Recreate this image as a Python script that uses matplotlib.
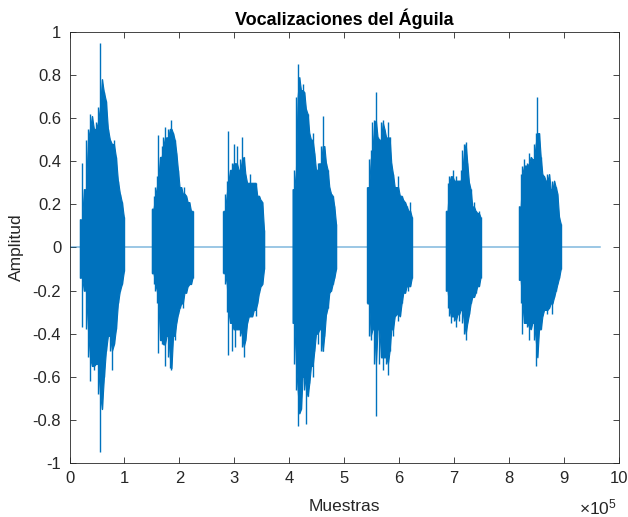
import numpy as np
import matplotlib
matplotlib.use("Agg")
import matplotlib.pyplot as plt
from matplotlib.ticker import FuncFormatter

plt.rcParams['font.family'] = ['Liberation Sans', 'DejaVu Sans']
plt.rcParams['axes.unicode_minus'] = False
plt.rcParams['mathtext.fontset'] = 'custom'
plt.rcParams['mathtext.rm'] = 'Liberation Sans'

# burst extents in samples (start, end) and envelope
burst_start = [0.19e5, 1.50e5, 2.80e5, 4.06e5, 5.42e5, 6.85e5, 8.18e5]
burst_end = [0.99e5, 2.24e5, 3.54e5, 4.85e5, 6.23e5, 7.48e5, 8.94e5]

upper = [
    [0.13, 0.39, 0.27, 0.50, 0.55, 0.62, 0.61, 0.55, 0.58, 0.65, 0.95, 0.78,
     0.72, 0.68, 0.55, 0.50, 0.48, 0.50, 0.42, 0.31, 0.25, 0.21, 0.14],
    [0.18, 0.24, 0.28, 0.33, 0.52, 0.42, 0.47, 0.51, 0.56, 0.51, 0.55, 0.55,
     0.59, 0.53, 0.50, 0.44, 0.36, 0.28, 0.28, 0.25, 0.28, 0.24, 0.21, 0.21,
     0.17, 0.17],
    [0.17, 0.25, 0.31, 0.54, 0.36, 0.39, 0.48, 0.39, 0.47, 0.36, 0.41, 0.51,
     0.42, 0.34, 0.30, 0.30, 0.34, 0.30, 0.30, 0.30, 0.24, 0.24, 0.22, 0.21,
     0.08],
    [0.27, 0.36, 0.70, 0.85, 0.79, 0.73, 0.76, 0.72, 0.64, 0.62, 0.53, 0.50,
     0.53, 0.44, 0.36, 0.39, 0.39, 0.47, 0.61, 0.47, 0.39, 0.36, 0.28, 0.25,
     0.24, 0.19, 0.11],
    [0.28, 0.41, 0.45, 0.58, 0.59, 0.72, 0.51, 0.50, 0.58, 0.59, 0.55, 0.51,
     0.58, 0.51, 0.39, 0.34, 0.28, 0.28, 0.33, 0.24, 0.24, 0.22, 0.21, 0.19,
     0.17, 0.21, 0.14],
    [0.17, 0.30, 0.33, 0.33, 0.36, 0.31, 0.33, 0.31, 0.31, 0.36, 0.45, 0.48,
     0.49, 0.39, 0.30, 0.27, 0.19, 0.21, 0.17, 0.16, 0.17, 0.14],
    [0.19, 0.34, 0.38, 0.41, 0.38, 0.39, 0.44, 0.42, 0.41, 0.48, 0.53, 0.70,
     0.53, 0.42, 0.34, 0.33, 0.31, 0.34, 0.34, 0.27, 0.31, 0.31, 0.28, 0.25,
     0.14, 0.11],
]
lower = [
    [-0.14, -0.37, -0.20, -0.38, -0.51, -0.62, -0.55, -0.57, -0.54, -0.68,
     -0.95, -0.75, -0.60, -0.48, -0.41, -0.48, -0.57, -0.45, -0.38, -0.26,
     -0.20, -0.17, -0.11],
    [-0.12, -0.17, -0.20, -0.26, -0.49, -0.43, -0.45, -0.45, -0.55, -0.41,
     -0.51, -0.56, -0.57, -0.41, -0.43, -0.35, -0.31, -0.28, -0.26, -0.28,
     -0.21, -0.21, -0.18, -0.17, -0.17, -0.14],
    [-0.12, -0.17, -0.30, -0.50, -0.35, -0.48, -0.38, -0.46, -0.38, -0.38,
     -0.41, -0.46, -0.51, -0.43, -0.35, -0.32, -0.32, -0.32, -0.29, -0.32,
     -0.26, -0.21, -0.18, -0.17, -0.10],
    [-0.35, -0.54, -0.66, -0.83, -0.77, -0.75, -0.60, -0.66, -0.82, -0.69,
     -0.63, -0.55, -0.60, -0.48, -0.40, -0.45, -0.38, -0.48, -0.48, -0.41,
     -0.31, -0.28, -0.21, -0.20, -0.17, -0.14, -0.10],
    [-0.26, -0.41, -0.43, -0.38, -0.54, -0.78, -0.38, -0.54, -0.51, -0.57,
     -0.51, -0.54, -0.59, -0.48, -0.38, -0.41, -0.32, -0.31, -0.34, -0.32,
     -0.26, -0.21, -0.21, -0.18, -0.20, -0.18, -0.14],
    [-0.20, -0.28, -0.32, -0.35, -0.32, -0.34, -0.37, -0.31, -0.34, -0.29,
     -0.35, -0.40, -0.43, -0.35, -0.31, -0.26, -0.23, -0.23, -0.21, -0.18,
     -0.18, -0.14],
    [-0.15, -0.26, -0.40, -0.35, -0.35, -0.37, -0.43, -0.38, -0.35, -0.43,
     -0.55, -0.51, -0.38, -0.38, -0.32, -0.29, -0.29, -0.31, -0.28, -0.26,
     -0.31, -0.23, -0.20, -0.17, -0.14, -0.10],
]

# silent baseline from first to last sample
silence_x = [0, 9.65e5]
silence_y = [0, 0]

blue = '#0072BD'
dark = '#262626'

fig = plt.figure(figsize=(6.28, 5.17), dpi=100)
ax = fig.add_axes([0.1107, 0.1044, 0.875, 0.834])

ax.plot(silence_x, silence_y, color=blue, lw=1.1, alpha=0.5)

for s, e, up, lo in zip(burst_start, burst_end, upper, lower):
    xs = np.linspace(s, e, len(up))
    # solid core between neighbouring minima, spikes drawn as vertical strokes
    core_up = np.minimum(up, np.roll(up, 1))
    core_lo = np.maximum(lo, np.roll(lo, 1))
    core_up[0], core_lo[0] = up[0], lo[0]
    ax.fill_between(xs, core_lo, core_up, color=blue, lw=0.8)
    ax.vlines(xs, lo, up, color=blue, lw=1.0)

ax.set_xlim(0, 10e5)
ax.set_ylim(-1, 1)
ax.set_xticks(np.arange(0, 11) * 1e5)
ax.xaxis.set_major_formatter(FuncFormatter(lambda v, p: '{:g}'.format(v / 1e5)))
ax.set_yticks(np.round(np.arange(-1, 1.01, 0.2), 1))
ax.yaxis.set_major_formatter(FuncFormatter(lambda v, p: '{:g}'.format(round(v, 1) + 0.0)))

ax.tick_params(direction='in', length=4, width=0.6, colors=dark,
               labelsize=12, top=True, right=True, pad=6)
for sp in ax.spines.values():
    sp.set_color(dark)
    sp.set_linewidth(0.6)

ax.set_title('Vocalizaciones del Águila', fontsize=13, fontweight='bold', pad=5)
ax.set_xlabel('Muestras', fontsize=12.5, color=dark, labelpad=9)
ax.set_ylabel('Amplitud', fontsize=12.5, color=dark, labelpad=6)
fig.text(0.983, 0.0, r'$\times\mathregular{10^{5}}$', fontsize=12.5, color=dark,
         ha='right', va='bottom')

fig.savefig('out.png', dpi=100)
